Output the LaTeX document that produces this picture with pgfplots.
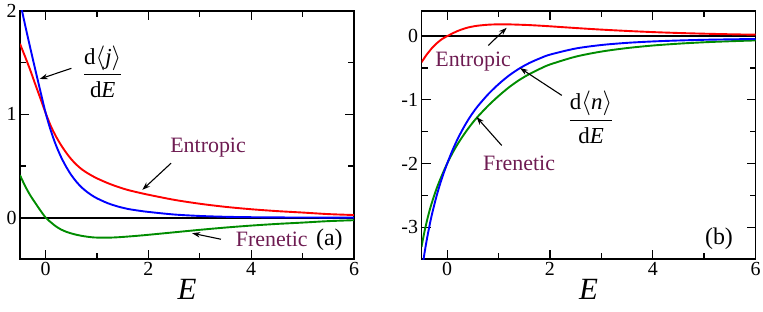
\documentclass[border=0pt]{standalone}
\usepackage{fontspec}
\setmainfont{LiberationSerif}[Extension=.ttf, UprightFont=*-Regular, ItalicFont=*-Italic, BoldFont=*-Bold, BoldItalicFont=*-BoldItalic]
\usepackage{pgfplots}
\pgfplotsset{compat=1.18}
\usetikzlibrary{arrows.meta}
\definecolor{lab}{RGB}{110,28,82}
\definecolor{cgreen}{RGB}{0,140,0}
\definecolor{cred}{RGB}{255,0,0}
\definecolor{cblue}{RGB}{0,0,255}
\pgfplotsset{mystyle/.style={
  scale only axis, width=334bp, height=248.3bp,
  xmin=-0.5, xmax=6,
  axis line style={line width=1.8bp},
  every tick/.style={black, line width=1.3bp},
  major tick length=9bp, minor tick length=6bp,
  xtick={0,2,4,6}, xticklabels={0,2,4,6},
  minor xtick={1,3,5},
  tick align=inside,
  tick label style={font=\fontsize{20}{20}\selectfont},
  xlabel={\itshape E},
  xlabel style={font=\fontsize{31}{31}\selectfont, at={(axis description cs:0.5,0)}, anchor=north, yshift=-17bp},
  every axis plot/.append style={line width=1.9bp, smooth},
}}
\tikzset{arr/.style={black, line width=1.1bp, -{Stealth[length=8bp,width=5.5bp]}},
  lbl/.style={text=lab, font=\fontsize{22}{22}\selectfont, inner sep=0pt}}
\begin{document}
\begin{tikzpicture}
\begin{axis}[mystyle, at={(0,0)}, anchor=south west,
  ymin=-0.4, ymax=2, ytick={0,1,2}, yticklabels={0,1,2}, minor ytick={0.5,1.5}]
\addplot[black, line width=2bp, sharp plot] coordinates {(-0.5,0) (6,0)};
\addplot[cred] coordinates {(-0.5,1.68) (-0.4,1.555) (-0.3,1.425) (-0.2,1.285) (-0.1,1.148) (0,1.01) (0.1,0.885) (0.2,0.785) (0.3,0.70) (0.4,0.627) (0.5,0.563) (0.6,0.511) (0.7,0.468) (0.8,0.434) (0.9,0.405) (1.0,0.379) (1.2,0.335) (1.4,0.298) (1.6,0.267) (1.8,0.243) (2.0,0.221) (2.5,0.172) (3.0,0.134) (3.5,0.104) (4.0,0.081) (4.5,0.063) (5.0,0.049) (5.5,0.034) (6.0,0.025)};
\addplot[cblue] coordinates {(-0.5,2.09) (-0.4,1.86) (-0.3,1.64) (-0.2,1.425) (-0.1,1.215) (0,1.01) (0.1,0.84) (0.2,0.70) (0.3,0.585) (0.4,0.49) (0.5,0.41) (0.6,0.345) (0.7,0.292) (0.8,0.25) (0.9,0.215) (1.0,0.186) (1.2,0.141) (1.4,0.108) (1.6,0.084) (1.8,0.068) (2.0,0.055) (2.5,0.03) (3.0,0.016) (3.5,0.008) (4.0,0.004) (4.5,0.002) (5.0,0.001) (6.0,0.0)};
\addplot[cgreen] coordinates {(-0.5,0.41) (-0.4,0.305) (-0.3,0.215) (-0.2,0.14) (-0.1,0.067) (0,0) (0.1,-0.045) (0.2,-0.085) (0.3,-0.115) (0.4,-0.137) (0.5,-0.153) (0.6,-0.166) (0.7,-0.176) (0.8,-0.184) (0.9,-0.19) (1.0,-0.193) (1.2,-0.194) (1.4,-0.19) (1.6,-0.183) (1.8,-0.175) (2.0,-0.166) (2.5,-0.142) (3.0,-0.118) (3.5,-0.096) (4.0,-0.077) (4.5,-0.061) (5.0,-0.048) (5.5,-0.034) (6.0,-0.025)};
\node[font=\fontsize{23}{23}\selectfont, inner sep=0pt] at (axis cs:1.11,1.41) {$\displaystyle\frac{\mbox{d}\langle\mbox{\itshape j}\rangle}{\mbox{d\itshape E}}$};
\draw[arr] (axis cs:0.5,1.443) -- (axis cs:-0.117,1.34);
\node[lbl] at (axis cs:3.16,0.673) {Entropic};
\draw[arr] (axis cs:2.44,0.526) -- (axis cs:1.88,0.268);
\node[lbl] at (axis cs:4.40,-0.206) {Frenetic};
\draw[arr] (axis cs:3.41,-0.209) -- (axis cs:2.85,-0.151);
\node[font=\fontsize{24}{24}\selectfont, inner sep=0pt] at (axis cs:5.52,-0.21) {(a)};
\end{axis}
\begin{axis}[mystyle, at={(401.5bp,0)}, anchor=south west,
  ymin=-3.5, ymax=0.4, ytick={-3,-2,-1,0}, yticklabels={-3,-2,-1,0}, minor ytick={-2.5,-1.5,-0.5}]
\addplot[black, line width=2bp, sharp plot] coordinates {(-0.5,0) (6,0)};
\addplot[cred] coordinates {(-0.5,-0.41) (-0.45,-0.35) (-0.4,-0.29) (-0.35,-0.24) (-0.3,-0.19) (-0.2,-0.11) (-0.1,-0.045) (0,0) (0.1,0.042) (0.2,0.08) (0.3,0.11) (0.4,0.135) (0.5,0.152) (0.6,0.165) (0.8,0.18) (1.0,0.186) (1.2,0.185) (1.4,0.18) (1.6,0.174) (1.8,0.165) (2.0,0.155) (2.5,0.128) (3.0,0.103) (3.5,0.082) (4.0,0.064) (4.5,0.05) (5.0,0.039) (5.5,0.03) (6.0,0.023)};
\addplot[cgreen] coordinates {(-0.5,-3.31) (-0.45,-3.1) (-0.4,-2.92) (-0.35,-2.76) (-0.3,-2.62) (-0.2,-2.38) (-0.1,-2.18) (0,-2.0) (0.1,-1.84) (0.2,-1.70) (0.3,-1.575) (0.4,-1.46) (0.5,-1.355) (0.6,-1.26) (0.8,-1.09) (1.0,-0.94) (1.2,-0.805) (1.4,-0.69) (1.6,-0.595) (1.8,-0.515) (2.0,-0.445) (2.5,-0.322) (3.0,-0.242) (3.5,-0.187) (4.0,-0.147) (4.5,-0.118) (5.0,-0.096) (5.5,-0.08) (6.0,-0.067)};
\addplot[cblue] coordinates {(-0.5,-3.72) (-0.45,-3.45) (-0.4,-3.21) (-0.35,-3.0) (-0.3,-2.81) (-0.2,-2.49) (-0.1,-2.225) (0,-2.0) (0.1,-1.798) (0.2,-1.62) (0.3,-1.465) (0.4,-1.325) (0.5,-1.203) (0.6,-1.095) (0.8,-0.91) (1.0,-0.754) (1.2,-0.62) (1.4,-0.51) (1.6,-0.421) (1.8,-0.35) (2.0,-0.29) (2.5,-0.194) (3.0,-0.139) (3.5,-0.105) (4.0,-0.083) (4.5,-0.068) (5.0,-0.057) (5.5,-0.05) (6.0,-0.044)};
\node[lbl] at (axis cs:0.506,-0.40) {Entropic};
\draw[arr] (axis cs:0.80,-0.146) -- (axis cs:1.157,0.132);
\node[font=\fontsize{23}{23}\selectfont, inner sep=0pt] at (axis cs:2.80,-1.27) {$\displaystyle\frac{\mbox{d}\langle\mbox{\itshape n}\rangle}{\mbox{d\itshape E}}$};
\draw[arr] (axis cs:2.23,-0.93) -- (axis cs:1.416,-0.50);
\node[lbl] at (axis cs:1.40,-2.0) {Frenetic};
\draw[arr] (axis cs:1.06,-1.716) -- (axis cs:0.57,-1.27);
\node[font=\fontsize{24}{24}\selectfont, inner sep=0pt] at (axis cs:5.29,-3.18) {(b)};
\end{axis}
\pgfresetboundingbox
\path[use as bounding box] (-20bp,-53bp) rectangle (743bp,259bp);
\end{tikzpicture}
\end{document}
